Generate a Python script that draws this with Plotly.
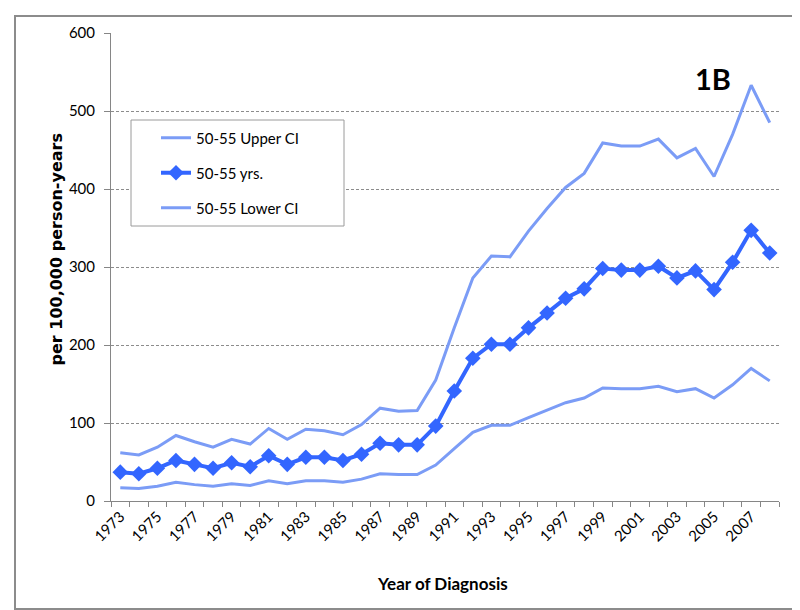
import plotly.graph_objects as go

years = list(range(1973, 2009))
upper_ci = [62, 59, 69, 84, 76, 69, 79, 73, 93, 79, 92, 90, 85, 98, 119, 115, 116, 155,
            222, 286, 314, 313, 346, 375, 402, 420, 459, 455, 455, 464, 440, 452, 416, 470, 533, 485]
rate = [37, 35, 42, 52, 47, 42, 49, 44, 58, 47, 56, 56, 52, 60, 74, 72, 72, 96,
        141, 183, 201, 201, 222, 241, 260, 272, 298, 296, 296, 301, 286, 295, 271, 306, 347, 318]
lower_ci = [17, 16, 19, 24, 21, 19, 22, 20, 26, 22, 26, 26, 24, 28, 35, 34, 34, 46,
            67, 88, 97, 97, 107, 117, 126, 132, 145, 144, 144, 147, 140, 144, 132, 149, 170, 154]
y_ticks = [0, 100, 200, 300, 400, 500, 600]

ci_color = "#7B9CF6"
main_color = "#3366FF"
font_main = "Lato, 'Open Sans', sans-serif"

W, H = 800, 610
L, R, T, B = 103, 29, 25, 117
pw, ph = W - L - R, H - T - B

def px(xp):
    return (xp - L) / pw

def py(yp):
    return (H - B - yp) / ph

fig = go.Figure()
xs = [str(y) for y in years]
fig.add_trace(go.Scatter(x=xs, y=upper_ci, mode="lines", name="50-55 Upper CI",
                         line=dict(color=ci_color, width=3), legend="legend"))
fig.add_trace(go.Scatter(x=xs, y=rate, mode="lines+markers", name="50-55 yrs.",
                         line=dict(color=main_color, width=4),
                         marker=dict(symbol="diamond", size=12, color=main_color),
                         legend="legend2"))
fig.add_trace(go.Scatter(x=xs, y=lower_ci, mode="lines", name="50-55 Lower CI",
                         line=dict(color=ci_color, width=3), legend="legend3"))

leg_common = dict(bgcolor="rgba(0,0,0,0)", borderwidth=0,
                  font=dict(family=font_main, size=15, color="#000"),
                  xanchor="left", yanchor="middle")
fig.update_layout(
    legend=dict(x=px(148), y=py(130), **leg_common),
    legend2=dict(x=px(148), y=py(165), **leg_common),
    legend3=dict(x=px(148), y=py(200), **leg_common),
)

fig.update_layout(
    width=W, height=H,
    margin=dict(l=L, r=R, t=T, b=B),
    paper_bgcolor="white", plot_bgcolor="white",
    showlegend=True,
    xaxis=dict(type="category", tickson="boundaries", ticks="outside", ticklen=5,
               tickcolor="#868686", showline=True, linecolor="#868686", linewidth=1,
               showgrid=False, tickangle=-45, ticklabelstep=2,
               tickfont=dict(family=font_main, size=15, color="#000"),
               range=[-0.5, len(years) - 0.5]),
    yaxis=dict(range=[0, 600], tickvals=y_ticks, ticks="outside", ticklen=6,
               tickcolor="#868686", showline=True, linecolor="#868686", linewidth=1,
               showgrid=True, gridcolor="#8c8c8c", griddash="3px,2px", gridwidth=1,
               zeroline=False, ticklabelstandoff=6,
               tickfont=dict(family=font_main, size=15, color="#000")),
    shapes=[
        dict(type="rect", xref="paper", yref="paper", x0=px(7), x1=px(792), y0=py(601), y1=py(8),
             line=dict(color="#8c8c8c", width=2), fillcolor="rgba(0,0,0,0)", layer="below"),
        dict(type="rect", xref="paper", yref="paper", x0=px(123), x1=px(336), y0=py(218), y1=py(112),
             line=dict(color="#9a9a9a", width=1), fillcolor="white", layer="above"),
    ],
    annotations=[
        dict(text="<b>1B</b>", xref="paper", yref="paper", x=px(725), y=py(51),
             showarrow=False, font=dict(family=font_main, size=29, color="#000")),
        dict(text="<b>Year of Diagnosis</b>", xref="paper", yref="paper", x=px(434), y=py(588),
             showarrow=False, font=dict(family=font_main, size=17, color="#000")),
        dict(text="<b>per 100,000 person-years</b>", xref="paper", yref="paper", x=px(36), y=py(242),
             showarrow=False, textangle=-90,
             font=dict(family="DejaVu Sans", size=16, color="#000")),
    ],
)

fig.write_html("out.html")
